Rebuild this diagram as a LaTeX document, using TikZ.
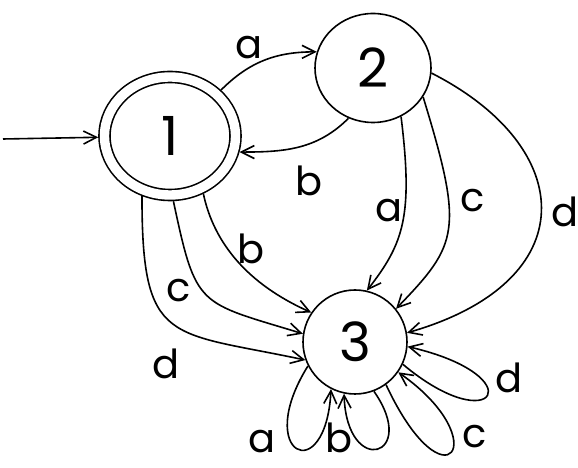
\documentclass[tikz,border=0pt]{standalone}
\usepackage{fontspec}
\setmainfont{Poppins}
\usetikzlibrary{arrows.meta,positioning,shapes.geometric}

\begin{document}
\begin{tikzpicture}[
  x=1pt, y=1pt,
  state/.style={draw, ellipse, line width=1.6pt, inner sep=0pt, font=\fontsize{54}{54}\selectfont},
  accept/.style={state, double, double distance=9.4pt, outer sep=6.3pt},
  lbl/.style={font=\fontsize{40}{40}\selectfont, inner sep=1pt},
  arrow/.style={-{Straight Barb[length=13pt,width=13pt]}, line width=1.6pt}
]
\useasboundingbox (0,0) rectangle (578,468);
% zustaende: 1 ist start- und endzustand
\node[accept, minimum width=131pt, minimum height=118pt] (s1) at (170,332) {1};
\node[state, minimum width=116pt, minimum height=109pt] (s2) at (373,400) {2};
\node[state, minimum size=104pt] (s3) at (355,126) {3};
\coordinate (init) at (3,329);
% uebergaenge zwischen 1 und 2
\draw[arrow] (init) -- (s1);
\draw[arrow] (s1.42) to[out=45, in=180] node[lbl, above left=0pt] {a} (s2.164);
\draw[arrow] (s2.244) to[out=225, in=0] node[lbl, below=20pt, pos=.4] {b} (s1.-13);
% von 2 nach 3
\draw[arrow] (s2.300) .. controls +(-83:100) and +(52:60) .. (s3.77) node[lbl, left, pos=.42] {a};
\draw[arrow] (s2.-30) .. controls +(-73:140) and +(46:90) .. (s3.39) node[lbl, right=10pt, pos=.35] {c};
\draw[arrow] (s2.-5) .. controls +(-27:165) and +(16:185) .. (s3.10) node[lbl, right=9pt, pos=.5] {d};
% von 1 nach 3
\draw[arrow] (s1.-60) .. controls +(-78:50) and +(156:70) .. (s3.146) node[lbl, right=8pt, pos=.4] {b};
\draw[arrow] (s1.-87) .. controls +(-78:110) and +(163:110) .. (s3.171) node[lbl, left=10pt, pos=.45] {c};
\draw[arrow] (s1.245) .. controls +(-90:150) and +(168:140) .. (s3.200) node[lbl, below=30pt, pos=.45] {d};
% schleifen an 3
\draw[arrow] (s3.207) .. controls +(-122:105) and +(-93:100) .. (s3.243) node[lbl, left=13pt, pos=.4] {a};
\draw[arrow] (s3.-69) .. controls +(-55:80) and +(-88:85) .. (s3.258) node[lbl, below=27pt, xshift=-5pt, pos=1] {b};
\draw[arrow] (s3.-54) .. controls +(-65:140) and +(-35:120) .. (s3.-35) node[lbl, right=8pt, pos=.65] {c};
\draw[arrow] (s3.-25) .. controls +(-40:120) and +(-13:130) .. (s3.-5) node[lbl, right=14pt, pos=.7] {d};
\end{tikzpicture}
\end{document}
